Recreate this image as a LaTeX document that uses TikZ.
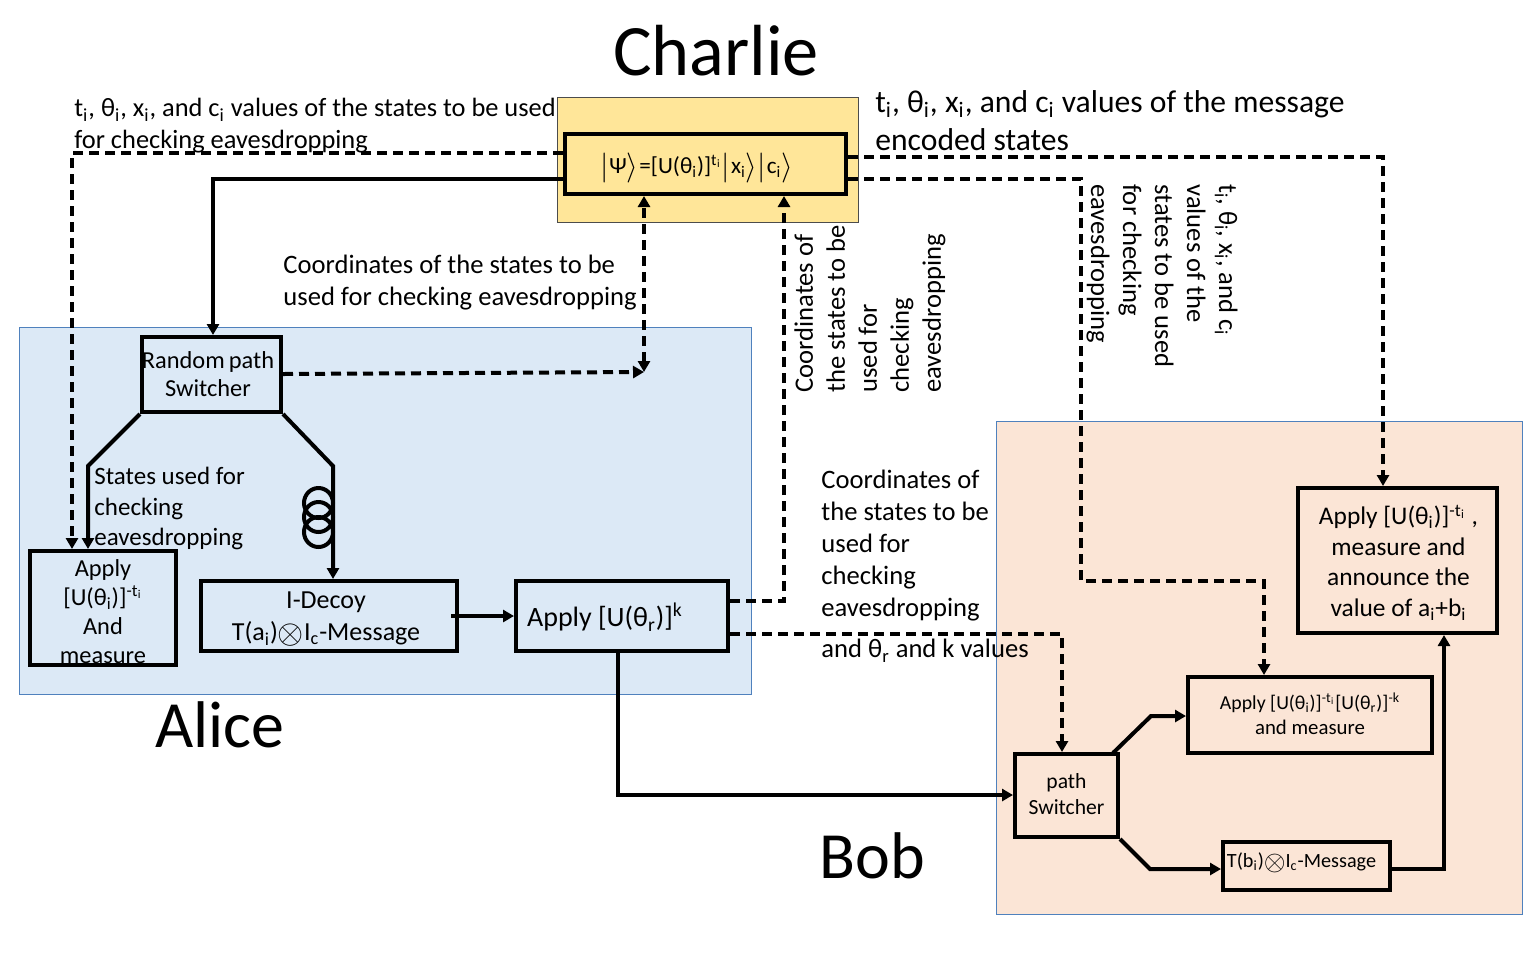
\documentclass[tikz,border=0pt]{standalone}
\usepackage{fontspec}
\setmainfont{Carlito}
\usetikzlibrary{arrows.meta,calc}
% sizes are given in pixels of a 1536 x 960 sheet, at 0.5pt per pixel
\newcommand{\bodyfont}{\fontsize{13.3}{16}\selectfont}
\newcommand{\titlefont}{\fontsize{33}{36}\selectfont}
\newcommand{\subi}[1]{\textsubscript{#1}}
\newcommand{\ket}{\raisebox{-1pt}{\scalebox{1.25}{$\rangle$}}}
\newcommand{\vbar}{\raisebox{-1pt}{\scalebox{1.25}{$|$}}}
\newcommand{\cross}{\smash{\raisebox{-1.4pt}{\scalebox{1.4}{$\otimes$}}}}
\newcommand{\ti}{\textsuperscript{t\subi{\kern0.2pt i}}}
\tikzset{
  x=0.5pt, y=-0.5pt,
  panel/.style={draw=#1, line width=0.5pt, anchor=north west, inner sep=0pt},
  block/.style={draw=black, line width=2pt, inner sep=0pt, align=center, font=\bodyfont},
  label/.style={inner sep=0pt, align=left, anchor=north west, font=\bodyfont},
  title/.style={inner sep=0pt, font=\titlefont},
  link/.style={draw=black, line width=2pt, line join=miter},
  hop/.style={link, dash pattern=on 5pt off 3pt},
  tip/.style={-{Triangle[length=5.5pt,width=6pt]}},
  tips/.style={{Triangle[length=5.5pt,width=6pt]}-{Triangle[length=5.5pt,width=6pt]}},
}
\definecolor{alicebg}{HTML}{DCE9F6}
\definecolor{bobbg}{HTML}{FBE5D6}
\definecolor{charliebg}{HTML}{FFE699}
\definecolor{edgeblue}{HTML}{4F81BD}
\begin{document}
\begin{tikzpicture}
\useasboundingbox (0,0) rectangle (1536,960);

% coloured areas of the three parties
\node[panel=edgeblue, fill=alicebg, minimum width=366pt, minimum height=183.5pt] (alicearea) at (19,327) {};
\node[panel=edgeblue, fill=bobbg, minimum width=263pt, minimum height=246.5pt] (bobarea) at (996,421) {};
\node[panel=black!70, fill=charliebg, minimum width=150.5pt, minimum height=62.5pt] (charliearea) at (557,97) {};

% party names
\node[title, font=\fontsize{36.2}{38}\selectfont] (charliename) at (716,51) {Charlie};
\node[title] (alicename) at (220,725) {Alice};
\node[title] (bobname) at (872,856) {Bob};

% processing blocks
\node[block, minimum width=140.5pt, minimum height=30pt, font=\fontsize{11.6}{14}\selectfont] (state) at (705.5,164)
  {\rule{0pt}{14.5pt}\hspace*{-9pt}\vbar\kern0.5ptΨ\ket\kern0.5pt=[U(θ\subi{i})]\ti\vbar\kern0.5pt x\subi{i}\ket\vbar\kern0.5pt c\subi{i}\ket};
\node[block, minimum width=69.5pt, minimum height=37.5pt, font=\fontsize{12.2}{14}\selectfont] (rps) at (211.5,374.5)
  {\hspace*{-3.5pt}\makebox[0pt]{Random\,path}\\\hspace*{-3.5pt}Switcher};
\node[block, minimum width=73pt, minimum height=57pt, font=\fontsize{12.2}{14.5}\selectfont] (applyleft) at (103,608)
  {\rule{0pt}{12pt}Apply\\{}[U(θ\subi{i})]\textsuperscript{-t\subi{\kern0.2pt i}}\\And\\measure};
\node[block, minimum width=128pt, minimum height=35pt, font=\fontsize{13}{16}\selectfont] (idecoy) at (329,616)
  {\rule{0pt}{11pt}I-Decoy\hspace*{3pt}\\T(a\subi{i})\cross I\subi{c}-Message\hspace*{3pt}};
\node[block, minimum width=106pt, minimum height=35pt, font=\fontsize{14}{16}\selectfont] (applyr) at (622,616)
  {\rule{0pt}{13pt}Apply [U(θ\subi{r})]\textsuperscript{k}\hspace*{17pt}};
\node[block, minimum width=99.5pt, minimum height=72.5pt, font=\fontsize{12.7}{15.25}\selectfont] (applytop) at (1397.5,560.5)
  {\rule{0pt}{12pt}\hspace*{1pt}Apply [U(θ\subi{i})]\textsuperscript{-t\subi{\kern0.2pt i}} ,\\\hspace*{1pt}measure and\\\hspace*{1pt}announce the\\\hspace*{1pt}value of a\subi{i}+b\subi{i}};
\node[block, minimum width=122pt, minimum height=38pt, font=\fontsize{10.4}{12.6}\selectfont] (applymid) at (1310,715)
  {\raisebox{1.5pt}{\fontsize{9.9}{12.6}\selectfont Apply [U(θ\subi{i})]\textsuperscript{-t\subi{\kern0.2pt i}}[U(θ\subi{r})]\textsuperscript{-k}}\\\raisebox{1.5pt}{and measure}};
\node[block, minimum width=51.5pt, minimum height=41.5pt, font=\fontsize{10.8}{13}\selectfont] (switcher) at (1066.5,795.5)
  {\raisebox{1.2pt}{path}\\\raisebox{1.2pt}{Switcher}};
\node[block, minimum width=83.5pt, minimum height=24pt, font=\fontsize{10.1}{12.6}\selectfont] (tbi) at (1306.5,866)
  {\rule[-5.5pt]{0pt}{1pt}T(b\subi{i})\cross I\subi{c}-Message\hspace*{5pt}};

% horizontal and rotated annotations
\node[label, font=\fontsize{13.2}{16}\selectfont] (noteleft) at (74,98)
  {t\subi{i}, θ\subi{i}, x\subi{i}, and c\subi{i} values of the states to be used\\for checking eavesdropping};
\node[label, font=\fontsize{15.8}{19}\selectfont] (noteright) at (875,90)
  {t\subi{i}, θ\subi{i}, x\subi{i}, and c\subi{i} values of the message\\encoded states};
\node[label] (notecoord) at (283,255)
  {Coordinates of the states to be\\used for checking eavesdropping};
\node[label, font=\fontsize{12.5}{15.3}\selectfont] (notestates) at (94,467)
  {States used for\\checking\\eavesdropping};
\node[label] (notealice) at (821,470)
  {Coordinates of\\the states to be\\used for\\checking\\eavesdropping};
\node[label] (notetheta) at (821,639) {and θ\subi{r} and k values};
\node[label, rotate=90] (rotleft) at (794,393)
  {Coordinates of\\the states to be\\used for\\checking\\eavesdropping};
\node[label, rotate=-90] (rotright) at (1238,184)
  {t\subi{i}, θ\subi{i}, x\subi{i}, and c\subi{i}\\values of the\\states to be used\\for checking\\eavesdropping};

% delay coil on the message arm
\foreach \cy in {503,517,532}
  \draw[line width=2pt] (318.5,\cy) ellipse (14.5 and 15);

% bend points of the routed connectors
\coordinate (ll) at (72,153);
\coordinate (sw) at (213,179);
\coordinate (tr) at (1383,157);
\coordinate (br) at (1081,179);
\coordinate (bd) at (1081,581);
\coordinate (be) at (1264,581);
\coordinate (join) at (644,372);
\coordinate (cr) at (784,601);
\coordinate (mr) at (1062,634);
\coordinate (la) at (88,466);
\coordinate (lb) at (333,466);
\coordinate (alow) at (618,795);
\coordinate (sa) at (1151,716);
\coordinate (sb) at (1150,869);
\coordinate (ret) at (1444,869);

% classical channels
\draw[hop, tip] (state.west |- ll) -- (ll) -- (applyleft.north -| ll);
\draw[hop, tip] (state.east |- tr) -- (tr) -- (applytop.north -| tr);
\draw[hop, tip] (state.east |- br) -- (br) -- (bd) -- (be) -- (applymid.north -| be);
\draw[hop, tip] (rps.east |- 0,374) -- (join);
\draw[hop, tips] (join) -- (state.south -| join);
\draw[hop, tip] (applyr.east |- cr) -- (cr) -- (state.south -| cr);
\draw[hop, tip] (applyr.east |- mr) -- (mr) -- (switcher.north -| mr);

% quantum channels
\draw[link, tip] (state.west |- sw) -- (sw) -- (rps.north -| sw);
\draw[link, tip] (rps.south west) -- (la) -- (applyleft.north -| la);
\draw[link, tip] (rps.south east) -- (lb) -- (idecoy.north -| lb);
\draw[link, tip] (451,616) -- (applyr.west);
\draw[link, tip] (applyr.south -| alow) -- (alow) -- (switcher.west |- alow);
\draw[link, tip] (1113,753) -- (sa) -- (applymid.west |- sa);
\draw[link, tip] (switcher.south east) -- (sb) -- (tbi.west |- sb);
\draw[link, tip] (tbi.east |- ret) -- (ret) -- (applytop.south -| ret);
\end{tikzpicture}
\end{document}
